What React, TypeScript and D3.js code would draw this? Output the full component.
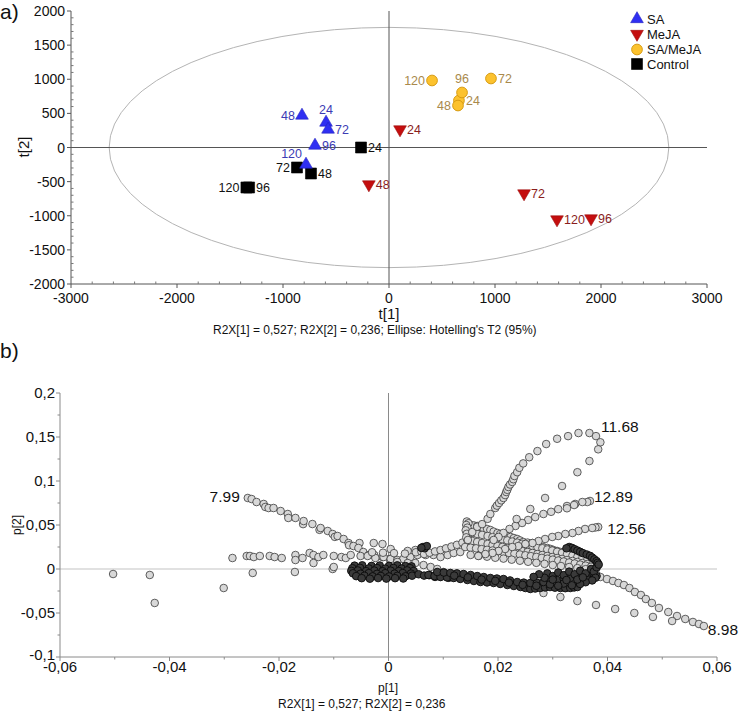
import React from 'react';
import * as d3 from 'd3';

// ---------- (a) scores ----------
const hours = ['24', '48', '72', '96', '120'];
const saT1 = [-594, -821, -575, -698, -783];
const saT2 = [366, 469, 264, 29, -249];
const mejaT1 = [104, -190, 1274, 1906, 1585];
const mejaT2 = [264, -542, -674, -1040, -1055];
const samejaT1 = [660, 651, 962, 689, 406];
const samejaT2 = [689, 615, 1011, 806, 982];
const controlT1 = [-264, -736, -868, -1320, -1345];
const controlT2 = [0, -381, -293, -586, -586];
const groupNames = ['SA', 'MeJA', 'SA/MeJA', 'Control'];
const scoreXTicks = [-3000, -2000, -1000, 0, 1000, 2000, 3000];
const scoreYTicks = [-2000, -1500, -1000, -500, 0, 500, 1000, 1500, 2000];
const ellipseT1 = 2640;
const ellipseT2 = 1760;

// ---------- (b) loadings ----------
const loadXTicks = [-0.06, -0.04, -0.02, 0, 0.02, 0.04, 0.06];
const loadXTickLabels = ['-0,06', '-0,04', '-0,02', '0', '0,02', '0,04', '0,06'];
const loadYTicks = [-0.1, -0.05, 0, 0.05, 0.1, 0.15, 0.2];
const loadYTickLabels = ['-0,1', '-0,05', '0', '0,05', '0,1', '0,15', '0,2'];

const loadings799: [number, number][] = [
  [-0.0257, 0.0807], [-0.025, 0.0795], [-0.0241, 0.0761], [-0.0228, 0.0739], [-0.0225, 0.0705], [-0.0219, 0.0693],
  [-0.021, 0.0693], [-0.0197, 0.0659], [-0.0184, 0.0625], [-0.0183, 0.058], [-0.017, 0.058], [-0.0156, 0.051],
  [-0.0155, 0.0545], [-0.0139, 0.0511], [-0.0126, 0.0445], [-0.0124, 0.0466], [-0.0111, 0.0432], [-0.0102, 0.0398],
  [-0.0098, 0.0365], [-0.0093, 0.0375], [-0.0082, 0.0341], [-0.0073, 0.0295], [-0.0072, 0.027], [-0.0064, 0.0261],
  [-0.0055, 0.0239], [-0.0046, 0.0193], [-0.0036, 0.0159], [-0.0026, 0.0159], [-0.0011, 0.0136], [0.0002, 0.0114],
];
const loadingsLeft: [number, number][] = [
  [-0.0285, 0.0125], [-0.0259, 0.0148], [-0.0253, 0.0148], [-0.0246, 0.0136], [-0.0235, 0.0148], [-0.0217, 0.0148],
  [-0.0208, 0.0136], [-0.0195, 0.0125], [-0.017, 0.0159], [-0.017, 0.0102], [-0.0157, 0.0125], [-0.0144, 0.0182],
  [-0.0137, 0.0159], [-0.0137, 0.0068], [-0.0128, 0.0136], [-0.0119, 0.0159], [-0.01, 0.0148], [-0.0086, 0.0136],
  [-0.0078, 0.0125], [-0.0069, 0.0159], [-0.0248, -0.0045], [-0.0171, -0.0034], [-0.0102, 0.0], [-0.01, 0.0023],
  [-0.0503, -0.0057], [-0.0436, -0.0068], [-0.0427, -0.0386], [-0.0301, -0.0216], [-0.0053, 0.0295],
];
const loadingsCentre: [number, number][] = [
  [-0.0051, 0.0148], [-0.0038, 0.0148], [-0.0024, 0.0125], [-0.0009, 0.0136], [0.0004, 0.0114], [0.0016, 0.0102],
  [0.0027, 0.0114], [0.004, 0.0136], [0.0053, 0.0159], [0.0068, 0.0159], [0.0082, 0.0159], [0.0095, 0.0136],
  [0.0108, 0.0159], [0.0119, 0.0182], [0.0131, 0.0193], [-0.0027, 0.0295], [-0.0011, 0.0284], [0.0004, 0.0227],
  [0.0035, 0.0205], [0.0049, 0.0216], [-0.003, 0.019], [-0.001, 0.0185], [0.001, 0.018], [0.003, 0.0175],
  [0.005, 0.019], [0.006, 0.02], [0.0065, 0.017], [0.0075, 0.0185], [0.0085, 0.02], [0.0095, 0.0215],
  [0.0105, 0.0235], [0.0115, 0.0255], [0.0125, 0.0275], [0.0135, 0.03],
  [0.0016, 0.008], [0.0035, 0.0068], [0.0049, 0.0068], [0.0064, 0.0045], [0.0077, 0.0023], [0.0089, 0.0],
  [0.01, -0.0034], [0.0113, -0.0057], [0.0126, -0.0091],
];
const loadings1168: [number, number][] = [
  [0.0143, 0.054], [0.0146, 0.052], [0.0142, 0.05], [0.0144, 0.047], [0.0141, 0.044], [0.0143, 0.04],
  [0.0142, 0.036], [0.0145, 0.033], [0.0153, 0.042], [0.0162, 0.048], [0.0171, 0.051], [0.0181, 0.057],
  [0.0186, 0.0625], [0.0195, 0.0693], [0.0198, 0.072], [0.0202, 0.075], [0.0206, 0.078], [0.021, 0.0807],
  [0.0213, 0.084], [0.0215, 0.0875], [0.0217, 0.09], [0.0219, 0.0932], [0.0222, 0.096], [0.0226, 0.0989],
  [0.0228, 0.102], [0.023, 0.1057], [0.0235, 0.11], [0.0239, 0.115], [0.0246, 0.12], [0.0257, 0.127],
  [0.0272, 0.134], [0.0288, 0.142], [0.0308, 0.148], [0.0328, 0.151], [0.0347, 0.1545], [0.0367, 0.1545],
  [0.0379, 0.151], [0.0387, 0.144], [0.0383, 0.136], [0.0367, 0.1227], [0.0345, 0.11], [0.0317, 0.0943],
  [0.0286, 0.0807], [0.0259, 0.0682], [0.0234, 0.0568],
];
const loadings1289: [number, number][] = [
  [0.0368, 0.0773], [0.0363, 0.0761], [0.0354, 0.0761], [0.0341, 0.0739], [0.0326, 0.0716], [0.0339, 0.0727],
  [0.0326, 0.069], [0.031, 0.068], [0.0297, 0.065], [0.0283, 0.0625], [0.0268, 0.059], [0.0255, 0.0557],
  [0.0244, 0.0523], [0.0232, 0.0489], [0.0221, 0.0455], [0.021, 0.041], [0.0201, 0.0364], [0.0192, 0.033],
];
const loadings1256: [number, number][] = [
  [0.0383, 0.0477], [0.0378, 0.0472], [0.0372, 0.0466], [0.0359, 0.0455], [0.0347, 0.0432], [0.0336, 0.0409],
  [0.0323, 0.0398], [0.031, 0.0375], [0.0299, 0.0364], [0.0286, 0.0341], [0.0274, 0.0318], [0.0263, 0.0295],
  [0.025, 0.0284], [0.0237, 0.0261], [0.0226, 0.025], [0.0213, 0.0227], [0.0201, 0.0205], [0.019, 0.0182],
  [0.0177, 0.017], [0.0164, 0.0148],
];
const loadings898: [number, number][] = [
  [0.037, -0.004], [0.038, -0.0065], [0.0387, -0.0091], [0.0399, -0.0114], [0.041, -0.0136], [0.042, -0.0159],
  [0.043, -0.0182], [0.044, -0.0216], [0.045, -0.0261], [0.0461, -0.0295], [0.047, -0.0341], [0.0481, -0.0386],
  [0.0494, -0.0443], [0.0511, -0.0489], [0.0527, -0.0534], [0.0542, -0.0568], [0.0556, -0.0602], [0.0567, -0.0625],
  [0.0576, -0.0648],
  [0.0283, -0.0273], [0.0314, -0.0318], [0.0345, -0.0364], [0.0379, -0.0409], [0.0414, -0.0455], [0.0449, -0.05],
  [0.0483, -0.0545], [0.0518, -0.0591],
];
const loadingsBand: [number, number][] = [
  [0.015, 0.05], [0.0156, 0.0495], [0.0162, 0.0489], [0.0168, 0.0478], [0.0173, 0.0466], [0.018, 0.0455],
  [0.0186, 0.0443], [0.0192, 0.0425], [0.0199, 0.0409], [0.0204, 0.0398], [0.021, 0.0386], [0.0216, 0.0375],
  [0.0223, 0.0364], [0.0229, 0.0352], [0.0235, 0.0341], [0.024, 0.0325], [0.0246, 0.0307], [0.0254, 0.03],
  [0.0263, 0.0295], [0.0268, 0.0278], [0.0274, 0.0261], [0.0282, 0.025], [0.029, 0.0239], [0.0296, 0.0228],
  [0.0301, 0.0216], [0.0308, 0.0205], [0.0314, 0.0193], [0.032, 0.0188], [0.0326, 0.0182], [0.0332, 0.016],
  [0.0337, 0.0136], [0.0344, 0.013], [0.035, 0.0125], [0.0356, 0.0115], [0.0363, 0.0102], [0.0369, 0.0092],
  [0.0374, 0.008],
  [0.0144, 0.042], [0.0153, 0.041], [0.0162, 0.0398], [0.0171, 0.0388], [0.0181, 0.0375], [0.019, 0.0362],
  [0.0199, 0.035], [0.0208, 0.0338], [0.0217, 0.0325], [0.0226, 0.0312], [0.0235, 0.03], [0.0244, 0.0287],
  [0.0254, 0.0275], [0.0263, 0.0262], [0.0272, 0.025], [0.0281, 0.0236], [0.029, 0.0222], [0.0299, 0.021],
  [0.0308, 0.0196], [0.0317, 0.0183], [0.0326, 0.0168], [0.0336, 0.0153], [0.0345, 0.0138], [0.0354, 0.0122],
  [0.0363, 0.0106], [0.0372, 0.0088], [0.0381, 0.007],
  [0.0144, 0.033], [0.0153, 0.0318], [0.0162, 0.0307], [0.0171, 0.0295], [0.0181, 0.0284], [0.019, 0.0273],
  [0.0199, 0.0261], [0.0208, 0.025], [0.0217, 0.0239], [0.0226, 0.0227], [0.0235, 0.0216], [0.0244, 0.0205],
  [0.0254, 0.0193], [0.0263, 0.0182], [0.0272, 0.017], [0.0281, 0.0159], [0.029, 0.0148], [0.0299, 0.0136],
  [0.0308, 0.0125], [0.0317, 0.0114], [0.0326, 0.0102], [0.0336, 0.0091], [0.0345, 0.008], [0.0354, 0.0068],
  [0.0363, 0.0057], [0.0372, 0.0045], [0.0381, 0.0034],
  [0.014, 0.025], [0.015, 0.0242], [0.016, 0.0235], [0.017, 0.0226], [0.018, 0.0218], [0.019, 0.021],
  [0.02, 0.02], [0.021, 0.0192], [0.022, 0.0182], [0.023, 0.0174], [0.024, 0.0165], [0.025, 0.0156],
  [0.026, 0.0146], [0.027, 0.0137], [0.028, 0.0126], [0.029, 0.0117], [0.03, 0.0106], [0.031, 0.0096],
  [0.032, 0.0085], [0.033, 0.0074], [0.034, 0.0062], [0.035, 0.005], [0.036, 0.0038], [0.037, 0.0025],
  [0.038, 0.001],
  [0.015, 0.016], [0.0165, 0.015], [0.018, 0.014], [0.0195, 0.0128], [0.021, 0.0118], [0.0225, 0.0106],
  [0.024, 0.0094], [0.0255, 0.0082], [0.027, 0.007], [0.0285, 0.0058], [0.03, 0.0045], [0.0315, 0.0034],
  [0.033, 0.0022], [0.0345, 0.001], [0.036, -0.0002], [0.0375, -0.0015],
];
const loadingsDark: [number, number][] = [
  [-0.0062, 0.0038], [-0.0048, 0.0042], [-0.0031, 0.0035], [-0.0016, 0.004], [0.0001, 0.0036], [0.0016, 0.0041],
  [0.0031, 0.0033], [0.0042, 0.003], [-0.0066, 0.0009], [-0.0052, 0.0013], [-0.0036, 0.0006], [-0.0021, 0.0011],
  [-0.0006, 0.0004], [0.0009, 0.0012], [0.0024, 0.0005], [0.0039, 0.001], [-0.0068, -0.0021], [-0.0056, -0.0017],
  [-0.0041, -0.0024], [-0.0026, -0.0018], [-0.0011, -0.0025], [0.0004, -0.0019], [0.0019, -0.0023], [0.0034, -0.0016],
  [0.0046, -0.0022], [-0.0065, -0.0049], [-0.0051, -0.0054], [-0.0036, -0.0047], [-0.0021, -0.0055], [-0.0006, -0.0048],
  [0.0011, -0.0053], [0.0026, -0.0046], [0.0041, -0.0052], [-0.0059, -0.0081], [-0.0044, -0.0077], [-0.0029, -0.0084],
  [-0.0014, -0.0079], [0.0001, -0.0085], [0.0016, -0.0078], [0.0031, -0.0083], [0.0043, -0.0076], [-0.0049, -0.0104],
  [-0.0034, -0.011], [-0.0019, -0.0103], [-0.0004, -0.0109], [0.0012, -0.0104], [0.0027, -0.0108],
  [0.0055, -0.006], [0.0065, -0.0075], [0.0075, -0.007], [0.0085, -0.009], [0.0095, -0.0085], [0.011, -0.01],
  [0.012, -0.0095],
  [0.0073, -0.0068], [0.0084, -0.008], [0.0095, -0.0091], [0.0107, -0.0096], [0.0119, -0.0102], [0.0131, -0.0113],
  [0.0144, -0.0125], [0.0156, -0.0136], [0.0168, -0.0148], [0.018, -0.0153], [0.0192, -0.0159], [0.0204, -0.017],
  [0.0217, -0.0182], [0.0229, -0.0193], [0.0241, -0.0205], [0.025, -0.0216], [0.0259, -0.0227], [0.0268, -0.0222],
  [0.0277, -0.0216], [0.0286, -0.021], [0.0295, -0.0205], [0.0304, -0.0212], [0.0314, -0.0216], [0.0323, -0.0218],
  [0.0332, -0.0216], [0.0339, -0.021], [0.0345, -0.0205],
  [0.0089, -0.0034], [0.0101, -0.004], [0.0113, -0.0045], [0.0125, -0.005], [0.0137, -0.0057], [0.015, -0.0068],
  [0.0162, -0.008], [0.0174, -0.0091], [0.0186, -0.0102], [0.0198, -0.0108], [0.021, -0.0114], [0.0222, -0.013],
  [0.0235, -0.0148], [0.0247, -0.0155], [0.0259, -0.0159], [0.0271, -0.0155], [0.0283, -0.0148], [0.0296, -0.0136],
  [0.0308, -0.0125], [0.032, -0.0113], [0.0332, -0.0102], [0.0344, -0.0097], [0.0356, -0.0091], [0.0366, -0.007],
  [0.0374, -0.0045],
  [0.012, -0.0075], [0.0145, -0.0095], [0.017, -0.012], [0.0195, -0.0135], [0.022, -0.0155], [0.0245, -0.018],
  [0.027, -0.019], [0.0295, -0.0175], [0.032, -0.0165], [0.0345, -0.015], [0.0365, -0.012], [0.038, -0.008],
  [0.029, -0.005], [0.03, -0.008], [0.031, -0.004], [0.032, -0.007], [0.033, -0.003], [0.034, -0.006],
  [0.035, -0.002], [0.036, -0.005], [0.037, 0.0], [0.0375, -0.003], [0.038, 0.002], [0.0378, -0.01],
  [0.0372, -0.013], [0.036, -0.015], [0.035, -0.017], [0.0335, -0.0185], [0.031, -0.019], [0.0285, -0.01],
  [0.0275, -0.006], [0.0265, -0.009], [0.03, -0.012], [0.0325, -0.0125], [0.0345, -0.012], [0.0355, -0.0095],
  [0.033, 0.025], [0.0335, 0.024], [0.0325, 0.0235], [0.034, 0.0225], [0.0345, 0.021], [0.035, 0.0195],
  [0.0355, 0.018], [0.0362, 0.0165], [0.0368, 0.015], [0.0372, 0.013], [0.0376, 0.011], [0.038, 0.009],
  [0.0382, 0.007], [0.0384, 0.005],
  [0.0063, 0.025], [0.0066, 0.0235], [0.007, 0.026], [0.006, 0.024],
];
const peakLabels = ['7.99', '11.68', '12.89', '12.56', '8.98'];
const peakP1 = [-0.0257, 0.0379, 0.0368, 0.0383, 0.0576];
const peakP2 = [0.0807, 0.151, 0.0773, 0.0477, -0.0648];

// ---------- styles ----------
const FONT = "'Liberation Sans', Arial, sans-serif";
const groupStyle: Record<string, { fill: string; stroke: string; text: string; shape: string }> = {
  SA: { fill: '#2f2ff2', stroke: '#2222c0', text: '#3c3cb4', shape: 'up' },
  MeJA: { fill: '#c40e0e', stroke: '#9a0a0a', text: '#8a1d1d', shape: 'down' },
  'SA/MeJA': { fill: '#fcc22e', stroke: '#d79b12', text: '#a9894c', shape: 'circle' },
  Control: { fill: '#000000', stroke: '#000000', text: '#111111', shape: 'square' },
};
const labelSide: Record<string, string[]> = {
  SA: ['top', 'left', 'right', 'right', 'topleft'],
  MeJA: ['right', 'right', 'right', 'right', 'right'],
  'SA/MeJA': ['right', 'left', 'right', 'top', 'left'],
  Control: ['right', 'right', 'left', 'right', 'left'],
};
const peakOffsets = [
  { dx: -8, dy: 4, anchor: 'end' },
  { dx: 5, dy: -4, anchor: 'start' },
  { dx: 4, dy: 1, anchor: 'start' },
  { dx: 9, dy: 7, anchor: 'start' },
  { dx: 4, dy: 9, anchor: 'start' },
];

const symPath = (shape: string) => {
  if (shape === 'up' || shape === 'down') return d3.symbol().type(d3.symbolTriangle).size(70)()!;
  if (shape === 'square') return d3.symbol().type(d3.symbolSquare).size(121)()!;
  return d3.symbol().type(d3.symbolCircle).size(90)()!;
};

function Marker({ x, y, group }: { x: number; y: number; group: string }) {
  const s = groupStyle[group];
  const rot = s.shape === 'down' ? ' rotate(180)' : '';
  return (
    <path
      d={symPath(s.shape)}
      transform={`translate(${x},${y})${rot}`}
      fill={s.fill}
      stroke={s.stroke}
      strokeWidth={s.shape === 'circle' ? 1 : 0.6}
    />
  );
}

export default function App() {
  // score plot scales
  const sx = d3.scaleLinear().domain([-3000, 3000]).range([71, 707]);
  const sy = d3.scaleLinear().domain([-2000, 2000]).range([284, 11]);
  // loading plot scales
  const lx = d3.scaleLinear().domain([-0.06, 0.06]).range([60, 717]);
  const ly = d3.scaleLinear().domain([-0.1, 0.2]).range([657, 393]);

  const groups: { name: string; t1: number[]; t2: number[] }[] = [
    { name: 'Control', t1: controlT1, t2: controlT2 },
    { name: 'SA', t1: saT1, t2: saT2 },
    { name: 'SA/MeJA', t1: samejaT1, t2: samejaT2 },
    { name: 'MeJA', t1: mejaT1, t2: mejaT2 },
  ];

  const sMinorX = d3.range(-3000, 3001, 200).filter((v) => v % 1000 !== 0);
  const sMinorY = d3.range(-2000, 2001, 100).filter((v) => v % 500 !== 0);
  const lMinorX = [-0.05, -0.03, -0.01, 0.01, 0.03, 0.05];
  const lMinorY = [-0.075, -0.025, 0.025, 0.075, 0.125, 0.175];

  const lightSets = [loadingsLeft, loadings799, loadingsCentre, loadingsBand, loadings1256, loadings1289, loadings1168, loadings898];

  return (
    <svg width={740} height={711} style={{ position: 'absolute', left: 0, top: 0, background: '#fff' }} fontFamily={FONT}>
      <rect x={0} y={0} width={740} height={711} fill="#fff" />
      {/* ===== panel a ===== */}
      <text x={0} y={19} fontSize={21} fill="#111">a)</text>
      <ellipse cx={sx(0)} cy={sy(0)} rx={sx(ellipseT1) - sx(0)} ry={sy(0) - sy(ellipseT2)} fill="none" stroke="#b4b4b4" strokeWidth={1} />
      <line x1={sx(0)} x2={sx(0)} y1={sy(2000)} y2={sy(-2000)} stroke="#555" strokeWidth={1} />
      <line x1={sx(-3000)} x2={sx(3000)} y1={sy(0)} y2={sy(0)} stroke="#555" strokeWidth={1} />
      <line x1={71} x2={71} y1={sy(2000)} y2={sy(-2000)} stroke="#555" />
      <line x1={sx(-3000)} x2={sx(3000)} y1={284} y2={284} stroke="#555" />
      {scoreYTicks.map((t) => (
        <g key={'sy' + t}>
          <line x1={67} x2={71} y1={sy(t)} y2={sy(t)} stroke="#555" />
          <text x={65} y={sy(t) + 5} fontSize={14} textAnchor="end" fill="#111">{t}</text>
        </g>
      ))}
      {sMinorY.map((t) => (
        <line key={'smy' + t} x1={71} x2={73.5} y1={sy(t)} y2={sy(t)} stroke="#777" />
      ))}
      {scoreXTicks.map((t) => (
        <g key={'sx' + t}>
          <line x1={sx(t)} x2={sx(t)} y1={284} y2={288} stroke="#555" />
          <text x={sx(t)} y={303} fontSize={14} textAnchor="middle" fill="#111">{t}</text>
        </g>
      ))}
      {sMinorX.map((t) => (
        <line key={'smx' + t} x1={sx(t)} x2={sx(t)} y1={281.5} y2={284} stroke="#777" />
      ))}
      <text x={389} y={319} fontSize={15} textAnchor="middle" fill="#111">t[1]</text>
      <text transform={`translate(29,147) rotate(-90)`} fontSize={15} textAnchor="middle" fill="#111">t[2]</text>
      <text x={213} y={334} fontSize={12} fill="#111">R2X[1] = 0,527; R2X[2] = 0,236; Ellipse: Hotelling's T2 (95%)</text>

      {groups.map((g) =>
        g.t1.map((v, i) => {
          const px = sx(v);
          const py = sy(g.t2[i]);
          return <Marker key={g.name + i} x={px} y={py} group={g.name} />;
        })
      )}
      {groups.map((g) =>
        g.t1.map((v, i) => {
          const px = sx(v);
          const py = sy(g.t2[i]);
          const side = labelSide[g.name][i];
          let tx = px + 7, ty = py + 4.5, anchor = 'start';
          if (side === 'left') { tx = px - 7; anchor = 'end'; }
          if (side === 'top') { tx = px; ty = py - 9; anchor = 'middle'; }
          if (side === 'topleft') { tx = px - 4; ty = py - 6; anchor = 'end'; }
          return (
            <text key={'l' + g.name + i} x={tx} y={ty} fontSize={12.5} textAnchor={anchor} fill={groupStyle[g.name].text}>
              {hours[i]}
            </text>
          );
        })
      )}
      {/* legend */}
      {groupNames.map((n, i) => {
        const ys = [19, 34, 49.5, 64];
        return (
          <g key={'lg' + n}>
            <Marker x={637} y={ys[i]} group={n} />
            <text x={647} y={ys[i] + 4.5} fontSize={13} fill="#111">{n}</text>
          </g>
        );
      })}

      {/* ===== panel b ===== */}
      <text x={0} y={358} fontSize={21} fill="#111">b)</text>
      <line x1={lx(0)} x2={lx(0)} y1={ly(0.2)} y2={ly(-0.1)} stroke="#8a8a8a" />
      <line x1={lx(-0.06)} x2={lx(0.06)} y1={ly(0)} y2={ly(0)} stroke="#c4c4c4" strokeWidth={1.2} />
      <line x1={60} x2={60} y1={ly(0.2)} y2={ly(-0.1)} stroke="#8a8a8a" />
      <line x1={lx(-0.06)} x2={lx(0.06)} y1={657} y2={657} stroke="#8a8a8a" />
      {loadYTicks.map((t, i) => (
        <g key={'ly' + t}>
          <line x1={56} x2={60} y1={ly(t)} y2={ly(t)} stroke="#8a8a8a" />
          <text x={55} y={ly(t) + (t === -0.1 ? 3 : 5)} fontSize={15} textAnchor="end" fill="#111">{loadYTickLabels[i]}</text>
        </g>
      ))}
      {lMinorY.map((t) => (
        <line key={'lmy' + t} x1={57.5} x2={60} y1={ly(t)} y2={ly(t)} stroke="#8a8a8a" />
      ))}
      {loadXTicks.map((t, i) => (
        <g key={'lx' + t}>
          <line x1={lx(t)} x2={lx(t)} y1={657} y2={661} stroke="#8a8a8a" />
          <text x={lx(t)} y={672} fontSize={15} textAnchor="middle" fill="#111">{loadXTickLabels[i]}</text>
        </g>
      ))}
      {lMinorX.map((t) => (
        <line key={'lmx' + t} x1={lx(t)} x2={lx(t)} y1={657} y2={659.5} stroke="#8a8a8a" />
      ))}
      <text x={388} y={692} fontSize={12} textAnchor="middle" fill="#111">p[1]</text>
      <text transform={`translate(21,525) rotate(-90)`} fontSize={12} textAnchor="middle" fill="#111">p[2]</text>
      <text x={278} y={708} fontSize={12} fill="#111">R2X[1] = 0,527; R2X[2] = 0,236</text>

      {lightSets.map((set, si) =>
        set.map((p, i) => (
          <circle key={'lp' + si + '-' + i} cx={lx(p[0])} cy={ly(p[1])} r={3.8} fill="#d8d8d8" stroke="#3a3a3a" strokeWidth={0.8} />
        ))
      )}
      {loadingsDark.map((p, i) => (
        <circle key={'dp' + i} cx={lx(p[0])} cy={ly(p[1])} r={3.8} fill="#3a3a3a" stroke="#0a0a0a" strokeWidth={0.9} />
      ))}
      {peakLabels.map((lab, i) => (
        <text
          key={'pk' + lab}
          x={lx(peakP1[i]) + peakOffsets[i].dx}
          y={ly(peakP2[i]) + peakOffsets[i].dy}
          fontSize={15.5}
          textAnchor={peakOffsets[i].anchor}
          fill="#111"
        >
          {lab}
        </text>
      ))}
    </svg>
  );
}
